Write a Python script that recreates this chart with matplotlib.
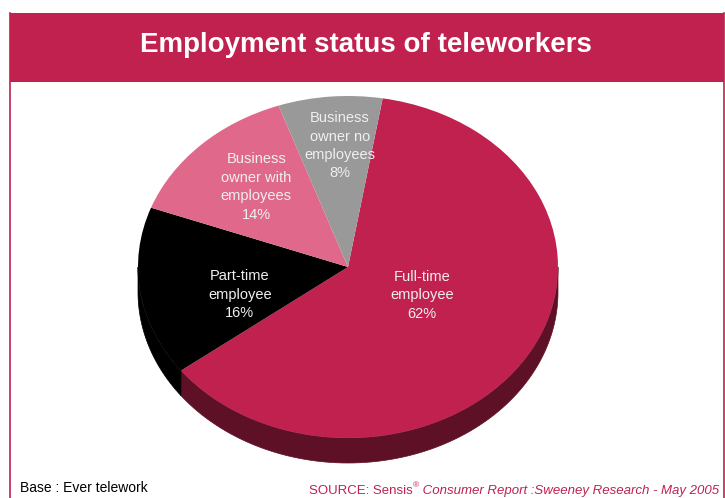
import numpy as np
import matplotlib.pyplot as plt
from matplotlib.patches import Rectangle, Polygon
from matplotlib.colors import to_rgb

plt.rcParams['font.family'] = ['Liberation Sans', 'DejaVu Sans']

CRIMSON = "#C0214F"

labels = ["Full-time\nemployee", "Part-time\nemployee",
          "Business\nowner with\nemployees", "Business\nowner no\nemployees"]
shares = [62, 16, 14, 8]
colors = [CRIMSON, "#000000", "#E0698B", "#999999"]

# label placement: fraction of the radius, and angular nudge from the wedge middle
label_r = [0.39, 0.54, 0.64, 0.71]
label_dt = [6, 9, -1.5, -1.8]

W, H = 725, 498
fig = plt.figure(figsize=(W / 100, H / 100), dpi=100)

# page frame, title band and footer, drawn in pixel coordinates
bg = fig.add_axes([0, 0, 1, 1])
bg.set_xlim(0, W)
bg.set_ylim(H, 0)
bg.axis("off")
bg.add_patch(Rectangle((10, 13), 714, 69, facecolor=CRIMSON, edgecolor="none"))
bg.plot([10, 10], [13, H], color=CRIMSON, lw=1.2)
bg.plot([724, 724], [13, H], color=CRIMSON, lw=1.2)
bg.text(366, 45, "Employment status of teleworkers", color="white",
        fontsize=20, fontweight="bold", ha="center", va="center")

bg.text(20, 488, "Base : Ever telework", fontsize=10, ha="left", va="center")
src = bg.text(719, 494, " Consumer Report :Sweeney Research - May 2005",
              fontsize=9.5, style="italic", color=CRIMSON, ha="right", va="baseline")
mark = bg.annotate("®", xy=(0, 0.62), xycoords=src, fontsize=6,
                   color=CRIMSON, ha="right", va="bottom")
bg.annotate("SOURCE: Sensis", xy=(0, 0), xycoords=(mark, src), fontsize=9.5,
            color=CRIMSON, ha="right", va="bottom")

# pie axes: unit circle -> ellipse of 210 x 171 px centred at (348, 267)
cx, cy = 348, H - 267
rx, ry = 210, 171
x0, x1 = cx - 240, cx + 240
y0, y1 = 20, 445
ax = fig.add_axes([x0 / W, y0 / H, (x1 - x0) / W, (y1 - y0) / H])
wedges, _ = ax.pie(shares, colors=colors, startangle=80.5, counterclock=False,
                   wedgeprops=dict(linewidth=0), radius=1.0)
ax.set_aspect("auto")
ax.set_xlim((x0 - cx) / rx, (x1 - cx) / rx)
ax.set_ylim((y0 - cy) / ry, (y1 - cy) / ry)
ax.axis("off")
for wd in wedges:
    wd.set_zorder(2)

# pie thickness: front arcs of each wedge extruded downwards
depth = 25 / ry
for w, c in zip(wedges, colors):
    t = np.radians(np.linspace(w.theta1, w.theta2, 500))
    t = t[np.sin(t) <= 0]
    if len(t) < 2:
        continue
    top = np.column_stack([np.cos(t), np.sin(t)])
    bot = np.column_stack([np.cos(t[::-1]), np.sin(t[::-1]) - depth])
    side = tuple(v * 0.49 for v in to_rgb(c))
    ax.add_patch(Polygon(np.vstack([top, bot]), closed=True, facecolor=side,
                         edgecolor=side, lw=0.5, zorder=0))

for w, lab, v, r, dt in zip(wedges, labels, shares, label_r, label_dt):
    mid = np.radians((w.theta1 + w.theta2) / 2 + dt)
    ax.text(r * np.cos(mid), r * np.sin(mid), f"{lab}\n{v}%", color="#EFEFEF",
            fontsize=10.5, ha="center", va="center", linespacing=1.4, zorder=3)

fig.savefig("out.png", dpi=100)
